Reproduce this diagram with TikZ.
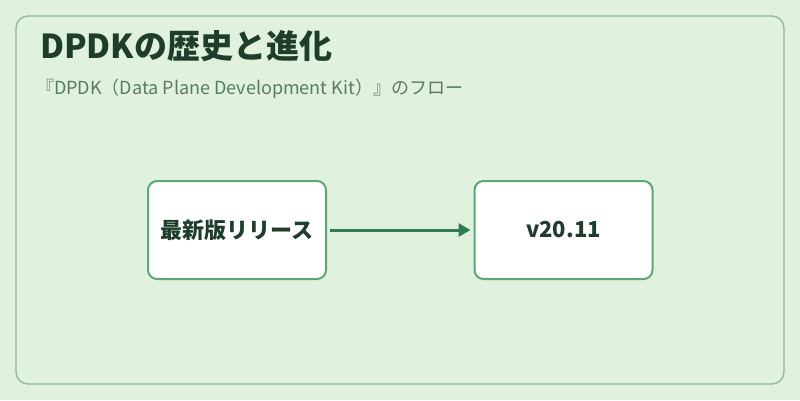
\documentclass[tikz,border=0pt]{standalone}
\usepackage{fontspec}
\setmainfont{Noto Sans CJK JP}
\usetikzlibrary{arrows.meta}
\definecolor{bg}{HTML}{E0F1DE}
\definecolor{frame}{HTML}{82BD8F}
\definecolor{boxb}{HTML}{5CA875}
\definecolor{ttl}{HTML}{1E3D2A}
\definecolor{sub}{HTML}{5A7A62}
\definecolor{arr}{HTML}{2E7D4F}
\tikzset{stepbox/.style={draw=boxb,line width=2pt,fill=white,rounded corners=9pt,minimum width=178pt,minimum height=98pt,font=\bfseries\fontsize{22}{24}\selectfont,text=ttl}}
\begin{document}
\begin{tikzpicture}[x=1pt,y=-1pt]
\fill[bg] (0,0) rectangle (800,400);
\useasboundingbox (0,0) rectangle (800,400);
\draw[frame,line width=1.3pt,rounded corners=12pt] (16,16) rectangle (784,384);
\node[anchor=west,inner sep=0pt,text=ttl,font=\bfseries\fontsize{33}{36}\selectfont] (t) at (40,46) {DPDKの歴史と進化};
\node[anchor=west,inner sep=0pt,text=sub,font=\fontsize{18}{20}\selectfont] (s) at (36,89) {『DPDK（Data Plane Development Kit）』のフロー};
\node[stepbox] (a) at (237,230) {最新版リリース};
\node[stepbox] (b) at (563.5,230) {v20.11};
\draw[arr,line width=3pt,-{Triangle[length=12pt,width=13pt]}] (a.east) ++(3,0) -- ([xshift=-3pt]b.west);
\end{tikzpicture}
\end{document}
